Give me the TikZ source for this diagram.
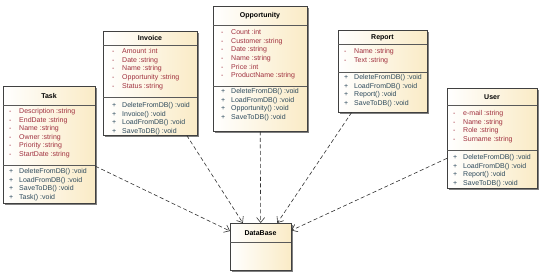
\documentclass[tikz,border=0pt]{standalone}
\usepackage{fontspec}
\setmainfont{Liberation Sans}
\usetikzlibrary{arrows.meta,shadows}
\definecolor{clsfill}{HTML}{FAEBC6}
\definecolor{attrred}{HTML}{A0303E}
\definecolor{methblue}{HTML}{2D4A5C}
\newcommand{\vis}[1]{\makebox[10pt][l]{#1}}

\begin{document}
\begin{tikzpicture}[x=1pt,y=-1pt,
  cls/.style={draw=black!75,left color=white,right color=clsfill,anchor=north west,inner sep=0pt,
    drop shadow={shadow xshift=1.5pt,shadow yshift=-1.5pt,fill=black!50,opacity=1}},
  hdr/.style={font=\fontsize{7}{8}\selectfont\bfseries,inner sep=0pt},
  attr/.style={anchor=base west,inner sep=0pt,text=attrred,font=\fontsize{7}{8}\selectfont,
    execute at begin node={\vis{-}}},
  meth/.style={anchor=base west,inner sep=0pt,text=methblue,font=\fontsize{7}{8}\selectfont,
    execute at begin node={\vis{+}}},
  cmpline/.style={draw=black!65,line width=0.6pt},
  dep/.style={-{Straight Barb[length=5pt,width=8pt]},dash pattern=on 4pt off 2.5pt,draw=black!80,line width=0.6pt}]
  \useasboundingbox[fill=white] (0,0) rectangle (541,275);

  % Task
  \node[cls,minimum width=92pt,minimum height=117pt] (task) at (3,86) {};
  \node[hdr] (task-h) at (49,96) {Task};
  \draw[cmpline] (3,105) -- (95,105);
  \draw[cmpline] (3,165) -- (95,165);
  \foreach \t [count=\i from 0] in {Description :string,EndDate :string,Name :string,Owner :string,Priority :string,StartDate :string}
    \node[attr] (task-a\i) at (9,{113.5+8.6*\i}) {\t};
  \foreach \t [count=\i from 0] in {DeleteFromDB() :void,LoadFromDB() :void,SaveToDB() :void,Task() :void}
    \node[meth] (task-m\i) at (9,{173.5+8.6*\i}) {\t};

  % Invoice
  \node[cls,minimum width=94pt,minimum height=104pt] (invoice) at (103,31) {};
  \node[hdr] (invoice-h) at (150,38) {Invoice};
  \draw[cmpline] (103,45) -- (197,45);
  \draw[cmpline] (103,97) -- (197,97);
  \foreach \t [count=\i from 0] in {Amount :int,Date :string,Name :string,Opportunity :string,Status :string}
    \node[attr] (invoice-a\i) at (112,{53.5+8.7*\i}) {\t};
  \foreach \t [count=\i from 0] in {DeleteFromDB() :void,Invoice() :void,LoadFromDB() :void,SaveToDB() :void}
    \node[meth] (invoice-m\i) at (112,{107.5+8.7*\i}) {\t};

  % Opportunity
  \node[cls,minimum width=94pt,minimum height=125pt] (opp) at (213,6) {};
  \node[hdr] (opp-h) at (260,15.5) {Opportunity};
  \draw[cmpline] (213,25) -- (307,25);
  \draw[cmpline] (213,86) -- (307,86);
  \foreach \t [count=\i from 0] in {Count :int,Customer :string,Date :string,Name :string,Price :int,ProductName :string}
    \node[attr] (opp-a\i) at (221,{34.5+8.7*\i}) {\t};
  \foreach \t [count=\i from 0] in {DeleteFromDB() :void,LoadFromDB() :void,Opportunity() :void,SaveToDB() :void}
    \node[meth] (opp-m\i) at (221,{93.5+8.7*\i}) {\t};

  % Report
  \node[cls,minimum width=89pt,minimum height=82pt] (report) at (338,30) {};
  \node[hdr] (report-h) at (382.5,37.5) {Report};
  \draw[cmpline] (338,44) -- (427,44);
  \draw[cmpline] (338,72) -- (427,72);
  \foreach \t [count=\i from 0] in {Name :string,Text :string}
    \node[attr] (report-a\i) at (344,{53.5+8.7*\i}) {\t};
  \foreach \t [count=\i from 0] in {DeleteFromDB() :void,LoadFromDB() :void,Report() :void,SaveToDB() :void}
    \node[meth] (report-m\i) at (344,{79.5+8.7*\i}) {\t};

  % User
  \node[cls,minimum width=90pt,minimum height=100pt] (user) at (447,88) {};
  \node[hdr] (user-h) at (492,97.5) {User};
  \draw[cmpline] (447,105) -- (537,105);
  \draw[cmpline] (447,150) -- (537,150);
  \foreach \t [count=\i from 0] in {e-mail :string,Name :string,Role :string,Surname :string}
    \node[attr] (user-a\i) at (453,{115.5+8.7*\i}) {\t};
  \foreach \t [count=\i from 0] in {DeleteFromDB() :void,LoadFromDB() :void,Report() :void,SaveToDB() :void}
    \node[meth] (user-m\i) at (453,{159.5+8.7*\i}) {\t};

  % DataBase
  \node[cls,minimum width=61pt,minimum height=47pt] (db) at (230,223) {};
  \node[hdr] (db-h) at (260.5,233) {DataBase};
  \draw[cmpline] (230,242) -- (291,242);

  % dependencies
  \draw[dep] (task.-25) -- (db.153);
  \draw[dep] (invoice.-55) -- (db.127);
  \draw[dep] (opp.south) -- (db.north);
  \draw[dep] (report.-127) -- (db.55);
  \draw[dep] (user.204) -- (db.28);
\end{tikzpicture}
\end{document}
